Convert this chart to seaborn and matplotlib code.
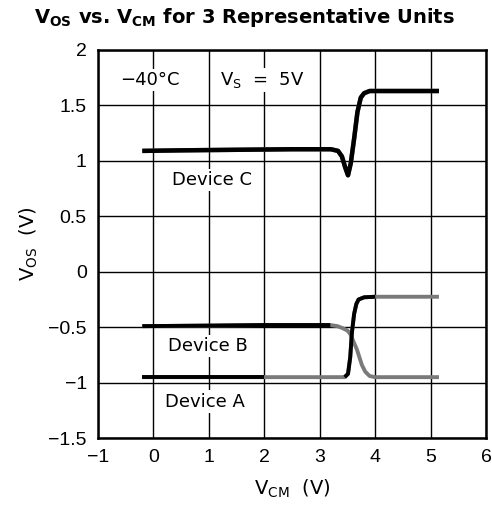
import numpy as np
import pandas as pd
import matplotlib
matplotlib.use("Agg")
import matplotlib.pyplot as plt
import seaborn as sns

# Data
c_x = [-0.2, 0.5, 1.5, 2.5, 3.2, 3.33, 3.40, 3.46, 3.51, 3.56, 3.62, 3.68, 3.74, 3.80, 3.90, 4.5, 5.15]
c_y = [1.09, 1.095, 1.10, 1.105, 1.105, 1.09, 1.04, 0.94, 0.87, 0.98, 1.20, 1.44, 1.57, 1.61, 1.63, 1.63, 1.63]

b_x = [-0.2, 1.0, 2.0, 3.0, 3.19, 3.32, 3.42, 3.50, 3.55, 3.67, 3.76, 3.82, 3.90, 4.0, 4.5, 5.15]
b_y = [-0.49, -0.485, -0.48, -0.48, -0.48, -0.49, -0.51, -0.53, -0.56, -0.70, -0.84, -0.90, -0.94, -0.95, -0.95, -0.95]

a_x = [-0.2, 1.0, 2.0, 3.0, 3.45, 3.51, 3.55, 3.58, 3.62, 3.66, 3.70, 3.80, 4.0, 4.5, 5.15]
a_y = [-0.95, -0.95, -0.95, -0.95, -0.95, -0.92, -0.77, -0.55, -0.38, -0.29, -0.25, -0.23, -0.225, -0.225, -0.225]

x_ticks = [-1, 0, 1, 2, 3, 4, 5, 6]
y_ticks = [-1.5, -1, -0.5, 0, 0.5, 1, 1.5, 2]
x_labels = ['\u22121', '0', '1', '2', '3', '4', '5', '6']
y_labels = ['\u22121.5', '\u22121', '\u22120.5', '0', '0.5', '1', '1.5', '2']

sns.set_style("white")
plt.rcParams['font.family'] = ['Liberation Sans Narrow', 'Liberation Sans', 'DejaVu Sans']
plt.rcParams['text.color'] = 'black'
plt.rcParams['axes.labelcolor'] = 'black'

fig = plt.figure(figsize=(4.92, 5.26), dpi=100)
ax = fig.add_axes([0.199, 0.167, 0.789, 0.738])

GRAY = '#7a7a7a'

def draw(xs, ys, black_ranges, lw):
    df = pd.DataFrame({'x': xs, 'y': ys})
    sns.lineplot(data=df, x='x', y='y', sort=False, estimator=None, color=GRAY,
                 linewidth=lw, ax=ax, solid_capstyle='butt', zorder=3)
    for lo, hi in black_ranges:
        part = df[(df['x'] >= lo) & (df['x'] <= hi)]
        sns.lineplot(data=part, x='x', y='y', sort=False, estimator=None, color='black',
                     linewidth=lw, ax=ax, solid_capstyle='butt', zorder=4)

draw(c_x, c_y, [(-1, 6)], 3.2)
draw(b_x, b_y, [(-1, 3.2)], 2.8)
draw(a_x, a_y, [(-1, 2.0), (3.45, 4.0)], 2.8)

ax.set_xlim(-1, 6)
ax.set_ylim(-1.5, 2)
ax.set_xticks(x_ticks)
ax.set_yticks(y_ticks)
ax.set_xticklabels(x_labels)
ax.set_yticklabels(y_labels)
ax.tick_params(axis='both', length=0, labelsize=14, pad=8, colors='black')
ax.grid(True, color='black', linewidth=1.0)
ax.set_axisbelow(True)
for s in ax.spines.values():
    s.set_color('black')
    s.set_linewidth(1.8)

ax.set_xlabel(r'V$_\mathregular{CM}$  (V)', fontsize=14, fontfamily='DejaVu Sans',
              color='black', labelpad=8)
ax.set_ylabel(r'V$_\mathregular{OS}$  (V)', fontsize=14, fontfamily='DejaVu Sans',
              color='black', labelpad=6)

box = dict(facecolor='white', edgecolor='none', pad=1.5)
tkw = dict(fontsize=13, fontfamily='DejaVu Sans', bbox=box, zorder=5, va='center', color='black')
ax.text(-0.6, 1.73, '\u221240\u00b0C', **tkw)
ax.text(1.2, 1.73, r'V$_\mathregular{S}$  =  5V', **tkw)
ax.text(0.33, 0.83, 'Device C', **tkw)
ax.text(0.26, -0.67, 'Device B', **tkw)
ax.text(0.21, -1.17, 'Device A', **tkw)

fig.text(0.497, 0.966, r'V$_\mathregular{OS}$ vs. V$_\mathregular{CM}$ for 3 Representative Units',
         ha='center', va='center', fontsize=14, fontweight='bold', color='black',
         fontfamily='DejaVu Sans')

fig.savefig('out.png', dpi=100)
